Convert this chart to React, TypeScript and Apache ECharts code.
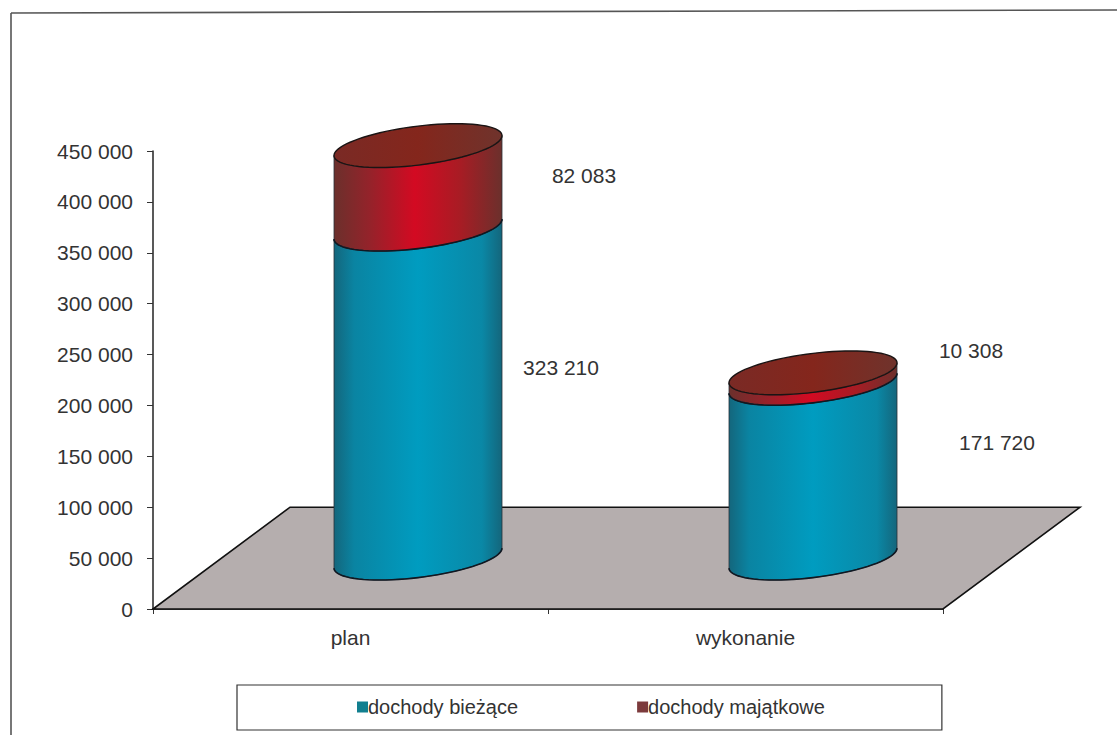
import React, { useEffect, useRef } from "react";
import * as echarts from "echarts";

const categories = ["plan", "wykonanie"];
const currentIncome = [323210, 171720];
const assetIncome = [82083, 10308];
const yTicksMax = 450000;
const yTickStep = 50000;
const seriesNames = ["dochody bieżące", "dochody majątkowe"];

// geometry of the pseudo-3D scene (pixels)
const DEPTH_X = 137;
const DEPTH_VALUE = 100000;
const CYL_SHIFT_X = 67.5;
const CYL_HALF_W = 84;
const CYL_SHEAR = 10;
const CYL_HALF_H = 19.5;
const currentLabelOffset = [
  [143, -26],
  [184, -28],
];
const assetLabelOffset = [
  [166, -12],
  [158, -28],
];

const TEXT = "#333333";
const FONT = "'Liberation Sans', Arial, sans-serif";
const fmt = (v: number) => String(v).replace(/\B(?=(\d{3})+$)/g, " ");

const blueGrad = () =>
  new echarts.graphic.LinearGradient(0, 0, 1, 0, [
    { offset: 0, color: "#14667c" },
    { offset: 0.12, color: "#0a84a2" },
    { offset: 0.5, color: "#009cc0" },
    { offset: 0.88, color: "#0a88a6" },
    { offset: 1, color: "#14667c" },
  ]);
const redGrad = () =>
  new echarts.graphic.LinearGradient(0, 0, 1, 0, [
    { offset: 0, color: "#6b302c" },
    { offset: 0.22, color: "#96222a" },
    { offset: 0.48, color: "#d30a22" },
    { offset: 0.75, color: "#a81c24" },
    { offset: 1, color: "#6b302c" },
  ]);
const topGrad = () =>
  new echarts.graphic.LinearGradient(0, 0, 1, 0, [
    { offset: 0, color: "#7a2a25" },
    { offset: 0.5, color: "#84261c" },
    { offset: 1, color: "#6f332c" },
  ]);

function arc(cx: number, y: number, from: number, to: number, n = 40) {
  const pts: number[][] = [];
  for (let i = 0; i <= n; i++) {
    const t = from + ((to - from) * i) / n;
    pts.push([
      cx + CYL_HALF_W * Math.cos(t),
      y - CYL_SHEAR * Math.cos(t) + CYL_HALF_H * Math.sin(t),
    ]);
  }
  return pts;
}

function makeSegment(grad: () => any, hasTop: boolean, offsets: number[][]) {
  return (_params: any, api: any) => {
    const idx = api.value(0);
    const base = api.value(1);
    const val = api.value(2);
    const pBase = api.coord([idx, base]);
    const pTop = api.coord([idx, base + val]);
    const dy = (api.coord([idx, DEPTH_VALUE])[1] - api.coord([idx, 0])[1]) / 2;
    const cx = pBase[0] + CYL_SHIFT_X;
    const yb = pBase[1] + dy;
    const yt = pTop[1] + dy;
    const side = [...arc(cx, yt, Math.PI, 0), ...arc(cx, yb, 0, Math.PI)];
    const children: any[] = [
      {
        type: "polygon",
        shape: { points: side },
        style: { fill: grad(), stroke: "#2a3038", lineWidth: 0.8 },
      },
      {
        type: "polyline",
        shape: { points: arc(cx, yb, 0, Math.PI) },
        style: { fill: "none", stroke: "#101822", lineWidth: 1.6 },
      },
    ];
    if (hasTop) {
      children.push({
        type: "polygon",
        shape: { points: arc(cx, yt, 0, Math.PI * 2, 80) },
        style: { fill: topGrad(), stroke: "#1a1414", lineWidth: 1.4 },
      });
    }
    const off = offsets[idx];
    children.push({
      type: "text",
      style: {
        x: cx + off[0],
        y: (yb + yt) / 2 + off[1],
        text: fmt(val),
        fill: TEXT,
        font: `21px ${FONT}`,
        textAlign: "center",
        textVerticalAlign: "middle",
      },
    });
    return { type: "group", children };
  };
}

const renderFloor = (_params: any, api: any) => {
  const a = api.coord([0, 0]);
  const b = api.coord([1, 0]);
  const catW = b[0] - a[0];
  const x0 = a[0] - catW / 2;
  const x1 = b[0] + catW / 2;
  const y0 = a[1];
  const y1 = api.coord([0, DEPTH_VALUE])[1];
  return {
    type: "polygon",
    shape: {
      points: [
        [x0, y0],
        [x1, y0],
        [x1 + DEPTH_X, y1],
        [x0 + DEPTH_X, y1],
      ],
    },
    style: { fill: "#b5aeae", stroke: "#111111", lineWidth: 1.6 },
  };
};

export default function App() {
  const ref = useRef<HTMLDivElement>(null);
  useEffect(() => {
    const chart = echarts.init(ref.current!, undefined, { renderer: "svg" });
    chart.setOption({
      animation: false,
      backgroundColor: "#ffffff",
      grid: { left: 153, right: 174, top: 151, bottom: 126 },
      xAxis: {
        type: "category",
        data: categories,
        axisLine: { lineStyle: { color: "#111", width: 1.5 } },
        axisTick: { show: true, length: 5, lineStyle: { color: "#333" } },
        axisLabel: { color: TEXT, fontFamily: FONT, fontSize: 21, margin: 18 },
      },
      yAxis: {
        type: "value",
        min: 0,
        max: yTicksMax,
        interval: yTickStep,
        axisLine: { show: true, lineStyle: { color: "#222", width: 1.5 } },
        axisTick: { show: true, length: 6, lineStyle: { color: "#333" } },
        splitLine: { show: false },
        axisLabel: {
          color: TEXT,
          fontFamily: FONT,
          fontSize: 21,
          margin: 20,
          formatter: (v: number) => fmt(v),
        },
      },
      legend: {
        left: 237,
        top: 685,
        orient: "horizontal",
        padding: [12, 117, 13, 120],
        itemGap: 119,
        itemWidth: 11,
        itemHeight: 11,
        icon: "rect",
        backgroundColor: "#fff",
        borderColor: "#333",
        borderWidth: 1.2,
        textStyle: { color: TEXT, fontFamily: FONT, fontSize: 20, padding: [0, 0, 0, -5] },
        data: [
          { name: seriesNames[0], itemStyle: { color: "#117f8f", borderWidth: 0 } },
          { name: seriesNames[1], itemStyle: { color: "#7c3a3c", borderWidth: 0 } },
        ],
      },
      graphic: [
        {
          type: "line",
          z: -1,
          shape: { x1: 11, y1: 13, x2: 11, y2: 735 },
          style: { stroke: "#555", lineWidth: 1.6 },
        },
        {
          type: "line",
          z: -1,
          shape: { x1: 11, y1: 13, x2: 1117, y2: 10 },
          style: { stroke: "#555", lineWidth: 1.6 },
        },
      ],
      series: [
        {
          type: "custom",
          name: "floor",
          data: [[0, 0]],
          z: 1,
          silent: true,
          renderItem: renderFloor,
        },
        {
          type: "custom",
          name: seriesNames[0],
          z: 2,
          silent: true,
          encode: { x: 0, y: 2 },
          data: categories.map((_, i) => [i, 0, currentIncome[i]]),
          renderItem: makeSegment(blueGrad, false, currentLabelOffset),
        },
        {
          type: "custom",
          name: seriesNames[1],
          z: 3,
          silent: true,
          encode: { x: 0, y: 2 },
          data: categories.map((_, i) => [i, currentIncome[i], assetIncome[i]]),
          renderItem: makeSegment(redGrad, true, assetLabelOffset),
        },
      ],
    });
    return () => chart.dispose();
  }, []);
  return (
    <div
      ref={ref}
      style={{ position: "absolute", left: 0, top: 0, width: 1117, height: 735 }}
    />
  );
}
